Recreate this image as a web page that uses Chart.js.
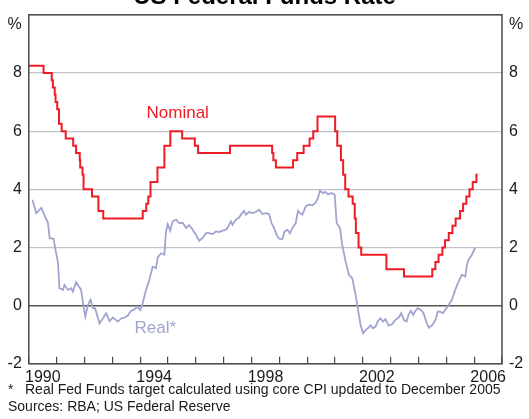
<!DOCTYPE html>
<html>
<head>
<meta charset="utf-8">
<title>US Federal Funds Rate</title>
<script src="https://cdn.jsdelivr.net/npm/chart.js@4.4.1/dist/chart.umd.min.js"></script>
<style>
    body { margin: 0; background: #fff; font-family: "Liberation Sans", Arial, sans-serif; }
    #grafico { position: absolute; left: 0; top: -17px; width: 529px; height: 436px; }
    .nota { position: absolute; left: 8px; font-size: 14px; line-height: 17px; color: #1a1a1a; white-space: nowrap; }
    .nota span { display: inline-block; width: 17px; }
</style>
</head>
<body>
<div id="grafico"><canvas id="myChart"></canvas></div>
<div class="nota" style="top:381px"><span>*</span>Real Fed Funds target calculated using core CPI updated to December 2005</div>
<div class="nota" style="top:398px">Sources: RBA; US Federal Reserve</div>

<script>
// === Dados: taxa nominal (data da mudança, nova meta) ===
const nominalDatas = [
    "1990-01-01", "1990-07-13", "1990-10-29", "1990-11-13", "1990-12-07", "1990-12-18",
    "1991-01-09", "1991-02-01", "1991-03-08", "1991-04-30", "1991-08-06", "1991-09-13",
    "1991-10-31", "1991-11-06", "1991-12-06", "1991-12-20", "1992-04-09", "1992-07-02",
    "1992-09-04", "1994-02-04", "1994-03-22", "1994-04-18", "1994-05-17", "1994-08-16",
    "1994-11-15", "1995-02-01", "1995-07-06", "1995-12-19", "1996-01-31", "1997-03-25",
    "1998-09-29", "1998-10-15", "1998-11-17", "1999-06-30", "1999-08-24", "1999-11-16",
    "2000-02-02", "2000-03-21", "2000-05-16", "2001-01-03", "2001-01-31", "2001-03-20",
    "2001-04-18", "2001-05-15", "2001-06-27", "2001-08-21", "2001-09-17", "2001-10-02",
    "2001-11-06", "2001-12-11", "2002-11-06", "2003-06-25", "2004-06-30", "2004-08-10",
    "2004-09-21", "2004-11-10", "2004-12-14", "2005-02-02", "2005-03-22", "2005-05-03",
    "2005-06-30", "2005-08-09", "2005-09-20", "2005-11-01", "2005-12-13", "2006-01-31",
    "2006-02-15"
];
const nominalTaxas = [
    8.25, 8.00, 7.75, 7.50, 7.25, 7.00,
    6.75, 6.25, 6.00, 5.75, 5.50, 5.25,
    5.00, 4.75, 4.50, 4.00, 3.75, 3.25,
    3.00, 3.25, 3.50, 3.75, 4.25, 4.75,
    5.50, 6.00, 5.75, 5.50, 5.25, 5.50,
    5.25, 5.00, 4.75, 5.00, 5.25, 5.50,
    5.75, 6.00, 6.50, 6.00, 5.50, 5.00,
    4.50, 4.00, 3.75, 3.50, 3.00, 2.50,
    2.00, 1.75, 1.25, 1.00, 1.25, 1.50,
    1.75, 2.00, 2.25, 2.50, 2.75, 3.00,
    3.25, 3.50, 3.75, 4.00, 4.25, 4.50,
    4.50
];

// === Dados: taxa real (ano decimal, valor) ===
const realAnos = [
    1990.13, 1990.27, 1990.45, 1990.53, 1990.69, 1990.75, 1990.89, 1990.96, 1991.05, 1991.10,
    1991.23, 1991.28, 1991.41, 1991.52, 1991.58, 1991.70, 1991.88, 1991.94, 1992.03, 1992.12,
    1992.22, 1992.30, 1992.38, 1992.54, 1992.66, 1992.78, 1992.90, 1993.02, 1993.20, 1993.32,
    1993.43, 1993.56, 1993.67, 1993.79, 1993.89, 1994.01, 1994.09, 1994.21, 1994.33, 1994.45,
    1994.57, 1994.63, 1994.75, 1994.87, 1994.93, 1994.99, 1995.08, 1995.17, 1995.29, 1995.40,
    1995.53, 1995.65, 1995.76, 1995.89, 1996.00, 1996.12, 1996.24, 1996.36, 1996.48, 1996.60,
    1996.72, 1996.84, 1996.96, 1997.08, 1997.14, 1997.26, 1997.32, 1997.44, 1997.56, 1997.62,
    1997.73, 1997.80, 1997.91, 1998.04, 1998.15, 1998.27, 1998.39, 1998.51, 1998.63, 1998.72,
    1998.81, 1998.90, 1998.99, 1999.11, 1999.19, 1999.29, 1999.38, 1999.47, 1999.59, 1999.67,
    1999.74, 1999.83, 1999.95, 2000.06, 2000.19, 2000.30, 2000.39, 2000.46, 2000.58, 2000.66,
    2000.75, 2000.87, 2000.99, 2001.06, 2001.18, 2001.26, 2001.38, 2001.50, 2001.62, 2001.74,
    2001.86, 2001.92, 2002.01, 2002.10, 2002.18, 2002.28, 2002.36, 2002.46, 2002.54, 2002.63,
    2002.73, 2002.81, 2002.93, 2003.05, 2003.17, 2003.29, 2003.38, 2003.47, 2003.57, 2003.65,
    2003.73, 2003.81, 2003.89, 2003.97, 2004.09, 2004.18, 2004.28, 2004.37, 2004.49, 2004.61,
    2004.69, 2004.78, 2004.88, 2005.00, 2005.08, 2005.20, 2005.32, 2005.44, 2005.56, 2005.68,
    2005.74, 2005.80, 2005.92, 2006.04
];
const realValores = [
    3.64, 3.18, 3.36, 3.18, 2.84, 2.32, 2.30, 1.92, 1.46, 0.60,
    0.54, 0.71, 0.54, 0.60, 0.48, 0.80, 0.54, 0.14, -0.38, 0.02,
    0.20, -0.09, -0.09, -0.61, -0.44, -0.26, -0.53, -0.41, -0.55, -0.44,
    -0.41, -0.34, -0.18, -0.13, -0.03, -0.15, 0.08, 0.54, 0.89, 1.34,
    1.29, 1.66, 1.80, 1.75, 2.55, 2.80, 2.58, 2.90, 2.96, 2.84,
    2.85, 2.67, 2.77, 2.61, 2.44, 2.23, 2.32, 2.49, 2.49, 2.46,
    2.55, 2.53, 2.58, 2.61, 2.67, 2.90, 2.78, 2.96, 3.03, 3.13,
    3.26, 3.13, 3.22, 3.18, 3.22, 3.30, 3.15, 3.18, 3.15, 2.84,
    2.67, 2.44, 2.30, 2.29, 2.55, 2.61, 2.49, 2.67, 2.84, 3.26,
    3.18, 3.13, 3.41, 3.47, 3.45, 3.53, 3.70, 3.95, 3.87, 3.91,
    3.82, 3.87, 3.82, 2.84, 2.67, 2.09, 1.52, 1.06, 0.94, 0.37,
    -0.32, -0.67, -0.95, -0.84, -0.78, -0.67, -0.78, -0.72, -0.53, -0.44,
    -0.55, -0.46, -0.69, -0.64, -0.49, -0.41, -0.26, -0.49, -0.55, -0.30,
    -0.18, -0.32, -0.18, -0.09, -0.15, -0.26, -0.55, -0.76, -0.67, -0.49,
    -0.21, -0.21, -0.26, -0.09, 0.02, 0.20, 0.54, 0.83, 1.06, 1.00,
    1.40, 1.58, 1.75, 2.00
];

// === Eixos ===
const anosRotulo = [1990, 1994, 1998, 2002, 2006];
const yTicks = [-2, 0, 2, 4, 6, 8];

const VERMELHO = "#ee1c25";
const LILAS = "#a0a5d0";
const FONTE = '"Liberation Sans", Arial, sans-serif';

// Converte "AAAA-MM-DD" em ano decimal
function anoDecimal(texto) {
    const d = new Date(texto + "T00:00:00Z");
    const inicio = Date.UTC(d.getUTCFullYear(), 0, 1);
    const fim = Date.UTC(d.getUTCFullYear() + 1, 0, 1);
    return d.getUTCFullYear() + (d - inicio) / (fim - inicio);
}

const nominalPontos = nominalDatas.map((d, i) => ({ x: anoDecimal(d), y: nominalTaxas[i] }));
const realPontos = realAnos.map((a, i) => ({ x: a, y: realValores[i] }));

// === Plugin: moldura do gráfico ===
const moldura = {
    id: "moldura",
    afterDraw(chart) {
        const { ctx, chartArea: a } = chart;
        ctx.save();
        ctx.strokeStyle = "#4a4a4a";
        ctx.lineWidth = 1.5;
        ctx.strokeRect(a.left, a.top, a.right - a.left, a.bottom - a.top);
        ctx.restore();
    },
};

// === Plugin: rótulos das séries ===
const rotulos = {
    id: "rotulos",
    afterDatasetsDraw(chart) {
        const { ctx, scales } = chart;
        const itens = [
            { texto: "Nominal", x: 1994.23, y: 6.62, cor: VERMELHO },
            { texto: "Real*", x: 1993.8, y: -0.79, cor: LILAS },
        ];
        ctx.save();
        ctx.font = "17px " + FONTE;
        ctx.textAlign = "left";
        ctx.textBaseline = "middle";
        itens.forEach((r) => {
            ctx.fillStyle = r.cor;
            ctx.fillText(r.texto, scales.x.getPixelForValue(r.x), scales.y.getPixelForValue(r.y));
        });
        ctx.restore();
    },
};

const eixoY = (posicao, largura) => ({
    type: "linear",
    position: posicao,
    min: -2,
    max: 10,
    afterFit: (s) => { s.width = largura; },
    afterBuildTicks: (s) => { s.ticks = yTicks.concat([10]).map((v) => ({ value: v })); },
    ticks: {
        padding: 7,
        color: "#1a1a1a",
        callback: (v) => (v === 10 ? ["", "%"] : v),
    },
    grid: {
        display: posicao === "left",
        drawTicks: false,
        color: (c) => (c.tick.value === 0 ? "#555" : "#bfc2cc"),
        lineWidth: (c) => (c.tick.value === 0 ? 1.5 : 1.2),
    },
    border: { display: false },
});

Chart.defaults.font.family = FONTE;
Chart.defaults.font.size = 16;

new Chart("myChart", {
    type: "line",
    data: {
        datasets: [
            {
                label: "Nominal",
                data: nominalPontos,
                borderColor: VERMELHO,
                borderWidth: 2,
                pointRadius: 0,
                stepped: true,
            },
            {
                label: "Real*",
                data: realPontos,
                borderColor: LILAS,
                borderWidth: 1.8,
                pointRadius: 0,
                tension: 0,
            },
        ],
    },
    options: {
        responsive: true,
        maintainAspectRatio: false,
        animation: false,
        layout: { padding: { bottom: 21 } },
        plugins: {
            legend: { display: false },
            tooltip: { enabled: false },
            title: {
                display: true,
                text: "US Federal Funds Rate",
                color: "#000",
                font: { size: 24, weight: "bold" },
                padding: { top: 0, bottom: 3 },
            },
        },
        scales: {
            x: {
                type: "linear",
                min: 1990,
                max: 2007,
                ticks: {
                    stepSize: 1,
                    maxTicksLimit: 20,
                    autoSkip: false,
                    maxRotation: 0,
                    labelOffset: 14,
                    padding: 11,
                    color: "#1a1a1a",
                    callback: (v) => (anosRotulo.includes(v) ? String(v) : ""),
                },
                grid: { drawOnChartArea: false, tickLength: -7, color: "#4a4a4a", lineWidth: 1.2 },
                border: { display: false },
            },
            y: eixoY("left", 28),
            y2: eixoY("right", 27),
        },
    },
    plugins: [moldura, rotulos],
});
</script>
</body>
</html>
